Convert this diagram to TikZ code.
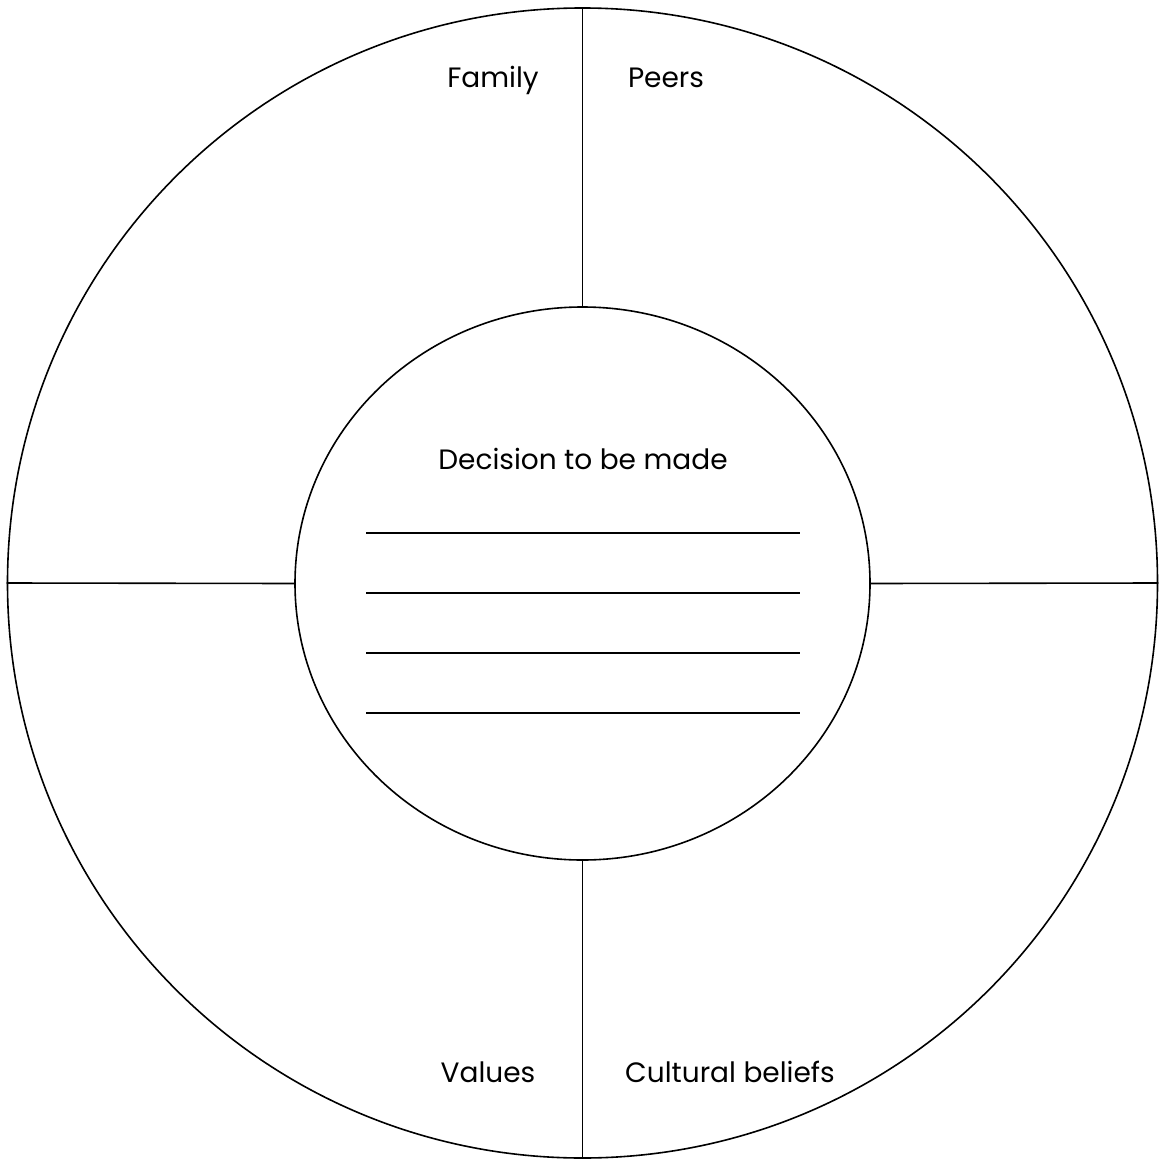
\documentclass[tikz,border=0pt]{standalone}
\usepackage{fontspec}
\setmainfont{Poppins}
\usetikzlibrary{positioning}
\usetikzlibrary{shapes.geometric}
\tikzstyle{ring}   = [circle, draw, line width=1.6pt, inner sep=0pt,
                      minimum size=1150pt]
\tikzstyle{hub}    = [ellipse, draw, line width=1.6pt, inner sep=0pt,
                      minimum width=575pt, minimum height=553pt]
\tikzstyle{tag}    = [font=\fontsize{28}{32}\selectfont, inner sep=0pt]
\tikzstyle{spoke}  = [line width=1.6pt]

\begin{document}
\begin{tikzpicture}[x=1pt, y=-1pt]
\useasboundingbox (0,0) rectangle (1159,1161);
\node (outer) [ring] at (582.5,583) {};
\node (inner) [hub] at (582.5,583.5) {};
\node (decision) [tag] at (583,459) {Decision to be made};
\node (family) [tag] at (493,80) {Family};
\node (peers) [tag] at (666,78) {Peers};
\node (values) [tag] at (488,1072) {Values};
\node (culture) [tag] at (730,1072) {Cultural beliefs};
\draw [spoke] (outer.north) -- (inner.north);
\draw [spoke] (outer.south) -- (inner.south);
\draw [spoke] (outer.west) -- (inner.west);
\draw [spoke] (outer.east) -- (inner.east);
% lines to write on
\foreach \y [count=\i] in {533,593,653,713} {
  \coordinate (l\i a) at (366,\y);
  \coordinate (l\i b) at (800,\y);
  \draw [spoke] (l\i a) -- (l\i b);
}
\end{tikzpicture}
\end{document}
